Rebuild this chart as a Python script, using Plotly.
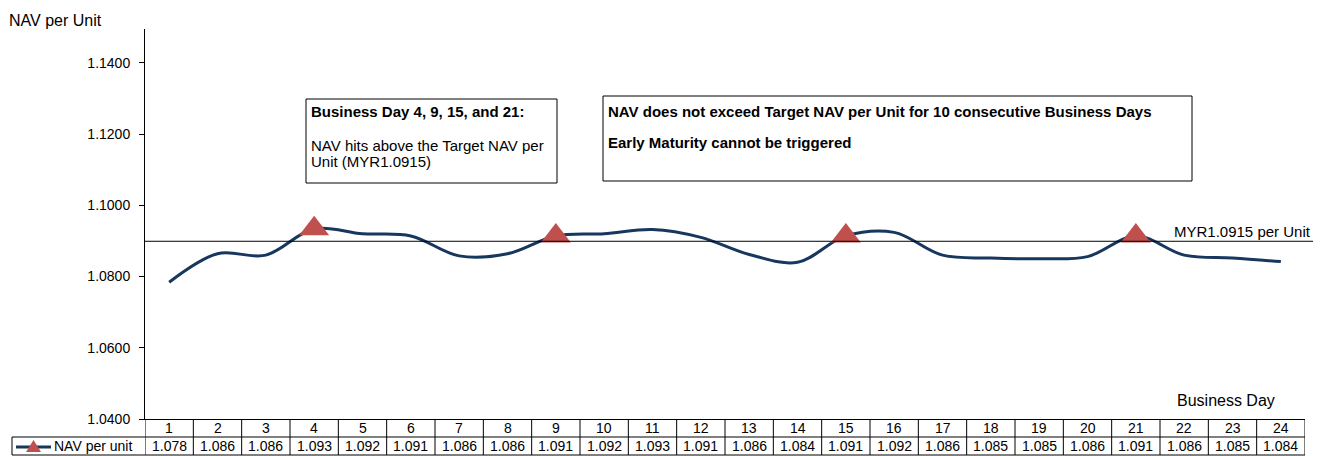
import plotly.graph_objects as go

# ---- data ----
days = list(range(1, 25))
nav = [1.0784, 1.0864, 1.0860, 1.0934, 1.0920, 1.0914, 1.0858, 1.0864,
       1.0914, 1.0920, 1.0932, 1.0910, 1.0862, 1.0840, 1.0914, 1.0924,
       1.0860, 1.0852, 1.0850, 1.0856, 1.0914, 1.0860, 1.0852, 1.0842]
hit_days = [4, 9, 15, 21]
target_line = 1.0899
y_ticks = [1.04, 1.06, 1.08, 1.10, 1.12, 1.14]

# ---- layout geometry (pixels in the browser window) ----
OFF = 8  # default page body margin
W, H = 1325 - OFF, 456 - OFF
L, R, T, B = 145 - OFF, 20, 29 - OFF, 37
PW, PH = W - L - R, H - T - B
FONT = "Arial, Liberation Sans, sans-serif"


def px(x):
    return (x - OFF - L) / PW


def py(y):
    return (H - B - (y - OFF)) / PH


fig = go.Figure()
fig.add_trace(go.Scatter(x=days, y=nav, mode="lines",
                         line=dict(color="#17375E", width=3, shape="spline", smoothing=1.0),
                         showlegend=False, hoverinfo="x+y"))
fig.add_trace(go.Scatter(x=hit_days, y=[nav[d - 1] for d in hit_days], mode="markers",
                         marker=dict(symbol="triangle-up", size=26, color="#C0504D"),
                         showlegend=False))

shapes = []
annotations = []

# target line
shapes.append(dict(type="line", xref="paper", yref="y", x0=0, x1=px(1313),
                   y0=target_line, y1=target_line, line=dict(color="#000000", width=1)))
annotations.append(dict(xref="paper", yref="y", x=px(1313), y=target_line, yshift=10,
                        text="MYR1.0915 per Unit", showarrow=False, xanchor="right",
                        font=dict(family=FONT, size=15, color="#000")))

# text boxes
shapes.append(dict(type="rect", xref="paper", yref="paper", x0=px(306), x1=px(557),
                   y0=py(183), y1=py(99), line=dict(color="#000", width=1)))
shapes.append(dict(type="rect", xref="paper", yref="paper", x0=px(603), x1=px(1192),
                   y0=py(181), y1=py(96), line=dict(color="#000", width=1)))
BOX = dict(family=FONT, size=15, color="#000")
annotations += [
    dict(xref="paper", yref="paper", x=px(309), y=py(111), text="<b>Business Day 4, 9, 15, and 21:</b>",
         showarrow=False, xanchor="left", yanchor="middle", font=BOX),
    dict(xref="paper", yref="paper", x=px(309), y=py(145), text="NAV hits above the Target NAV per",
         showarrow=False, xanchor="left", yanchor="middle", font=BOX),
    dict(xref="paper", yref="paper", x=px(309), y=py(161), text="Unit (MYR1.0915)",
         showarrow=False, xanchor="left", yanchor="middle", font=BOX),
    dict(xref="paper", yref="paper", x=px(606), y=py(111),
         text="<b>NAV does not exceed Target NAV per Unit for 10 consecutive Business Days</b>",
         showarrow=False, xanchor="left", yanchor="middle", font=BOX),
    dict(xref="paper", yref="paper", x=px(606), y=py(142), text="<b>Early Maturity cannot be triggered</b>",
         showarrow=False, xanchor="left", yanchor="middle", font=BOX),
    dict(xref="paper", yref="paper", x=px(7), y=py(20), text="NAV per Unit",
         showarrow=False, xanchor="left", yanchor="middle", font=dict(family=FONT, size=16, color="#000")),
    dict(xref="paper", yref="paper", x=px(1226), y=py(400), text="Business Day",
         showarrow=False, xanchor="center", yanchor="middle", font=dict(family=FONT, size=16, color="#000")),
]

# data table below the axis
row1_top, row_mid, row2_bot = 419, 437, 455
TBL = dict(family=FONT, size=14, color="#000")
for i, d in enumerate(days):
    annotations.append(dict(xref="x", yref="paper", x=d, y=py(428), text=str(d), showarrow=False,
                            xanchor="center", yanchor="middle", font=TBL))
    annotations.append(dict(xref="x", yref="paper", x=d, y=py(446), text=f"{nav[i]:.3f}", showarrow=False,
                            xanchor="center", yanchor="middle", font=TBL))
for k in range(len(days) + 1):
    xb = 0.5 + k
    shapes.append(dict(type="line", xref="x", yref="paper", x0=xb, x1=xb,
                       y0=py(row1_top), y1=py(row2_bot), line=dict(color="#000", width=1)))
shapes.append(dict(type="line", xref="paper", yref="paper", x0=px(12), x1=1,
                   y0=py(row_mid), y1=py(row_mid), line=dict(color="#000", width=1)))
shapes.append(dict(type="line", xref="paper", yref="paper", x0=px(12), x1=1,
                   y0=py(row2_bot), y1=py(row2_bot), line=dict(color="#000", width=1)))
shapes.append(dict(type="line", xref="paper", yref="paper", x0=px(12), x1=px(12),
                   y0=py(row_mid), y1=py(row2_bot), line=dict(color="#000", width=1)))
# legend key
shapes.append(dict(type="line", xref="paper", yref="paper", x0=px(16), x1=px(51),
                   y0=py(447), y1=py(447), line=dict(color="#17375E", width=3)))
shapes.append(dict(type="path", xref="paper", yref="paper",
                   path=f"M {px(26)} {py(452)} L {px(41)} {py(452)} L {px(33.5)} {py(440)} Z",
                   fillcolor="#C0504D", line=dict(width=0)))
annotations.append(dict(xref="paper", yref="paper", x=px(52), y=py(446), text="NAV per unit",
                        showarrow=False, xanchor="left", yanchor="middle", font=TBL))

fig.update_layout(
    width=W, height=H, margin=dict(l=L, r=R, t=T, b=B),
    paper_bgcolor="white", plot_bgcolor="white",
    shapes=shapes, annotations=annotations,
    xaxis=dict(range=[0.5, 24.5], showticklabels=False, showgrid=False, zeroline=False,
               showline=True, linecolor="#000", linewidth=1, ticks=""),
    yaxis=dict(range=[1.04, 1.1495], tickvals=y_ticks, tickformat=".4f", showgrid=False,
               zeroline=False, showline=True, linecolor="#000", linewidth=1,
               ticks="outside", ticklen=5, tickcolor="#000", ticklabelstandoff=6,
               tickfont=dict(family=FONT, size=14, color="#000")),
    font=dict(family=FONT),
)

fig.write_html("out.html")
